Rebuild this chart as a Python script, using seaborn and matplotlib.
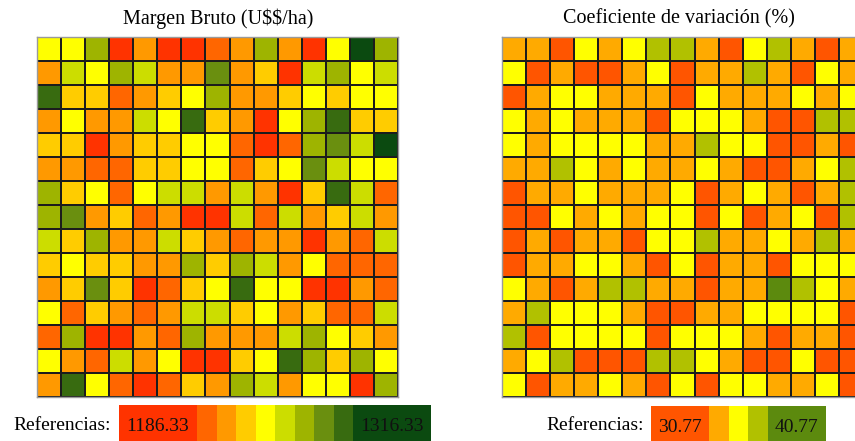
import numpy as np
import seaborn as sns
import matplotlib
matplotlib.use("Agg")
import matplotlib.pyplot as plt
from matplotlib.colors import ListedColormap, BoundaryNorm

plt.rcParams["text.parse_math"] = False

# ---- data -------------------------------------------------------------
margen_bruto = [
    [1245, 1245, 1271, 1193, 1219, 1193, 1193, 1206, 1219, 1271, 1219, 1193, 1245, 1310, 1271],
    [1219, 1258, 1245, 1271, 1258, 1219, 1219, 1284, 1219, 1232, 1193, 1258, 1271, 1245, 1258],
    [1297, 1232, 1232, 1206, 1219, 1232, 1245, 1271, 1219, 1219, 1232, 1245, 1232, 1245, 1245],
    [1219, 1245, 1219, 1219, 1258, 1245, 1297, 1232, 1219, 1193, 1245, 1271, 1297, 1232, 1232],
    [1232, 1232, 1186.33, 1219, 1232, 1232, 1245, 1245, 1206, 1193, 1206, 1271, 1284, 1258, 1316.33],
    [1219, 1219, 1206, 1206, 1232, 1232, 1245, 1245, 1206, 1232, 1245, 1284, 1258, 1245, 1245],
    [1271, 1232, 1245, 1206, 1245, 1258, 1258, 1219, 1258, 1219, 1193, 1232, 1297, 1258, 1206],
    [1271, 1284, 1219, 1232, 1206, 1219, 1193, 1193, 1258, 1206, 1258, 1219, 1232, 1258, 1219],
    [1258, 1232, 1271, 1219, 1219, 1258, 1232, 1219, 1206, 1219, 1219, 1193, 1219, 1206, 1258],
    [1232, 1245, 1232, 1232, 1219, 1219, 1271, 1232, 1271, 1258, 1219, 1245, 1206, 1206, 1206],
    [1219, 1232, 1284, 1232, 1193, 1206, 1232, 1245, 1297, 1245, 1245, 1193, 1193, 1219, 1206],
    [1245, 1206, 1232, 1219, 1206, 1219, 1258, 1258, 1232, 1245, 1219, 1232, 1206, 1206, 1258],
    [1206, 1271, 1193, 1193, 1219, 1206, 1271, 1219, 1219, 1219, 1258, 1271, 1245, 1232, 1219],
    [1245, 1219, 1206, 1258, 1219, 1245, 1193, 1193, 1232, 1245, 1297, 1271, 1232, 1271, 1245],
    [1219, 1297, 1245, 1206, 1193, 1206, 1232, 1219, 1271, 1258, 1219, 1245, 1245, 1193, 1271],
]

coef_variacion = [
    [33.8, 33.8, 31.8, 35.8, 33.8, 35.8, 37.8, 37.8, 33.8, 31.8, 35.8, 37.8, 33.8, 31.8, 33.8],
    [35.8, 31.8, 33.8, 31.8, 31.8, 33.8, 35.8, 31.8, 33.8, 33.8, 37.8, 33.8, 31.8, 35.8, 33.8],
    [31.8, 33.8, 35.8, 35.8, 33.8, 33.8, 33.8, 31.8, 35.8, 33.8, 33.8, 33.8, 35.8, 33.8, 35.8],
    [35.8, 33.8, 35.8, 33.8, 33.8, 33.8, 31.8, 35.8, 35.8, 35.8, 33.8, 31.8, 31.8, 37.8, 37.8],
    [35.8, 33.8, 35.8, 35.8, 35.8, 35.8, 33.8, 33.8, 37.8, 35.8, 35.8, 31.8, 31.8, 33.8, 31.8],
    [33.8, 33.8, 37.8, 35.8, 33.8, 35.8, 33.8, 33.8, 35.8, 33.8, 31.8, 31.8, 33.8, 35.8, 37.8],
    [31.8, 33.8, 33.8, 35.8, 33.8, 33.8, 33.8, 35.8, 31.8, 33.8, 35.8, 33.8, 31.8, 33.8, 37.8],
    [31.8, 31.8, 35.8, 33.8, 35.8, 33.8, 35.8, 35.8, 31.8, 35.8, 31.8, 33.8, 35.8, 31.8, 37.8],
    [30.77, 33.8, 31.8, 33.8, 33.8, 31.8, 35.8, 35.8, 37.8, 33.8, 33.8, 35.8, 33.8, 37.8, 33.8],
    [31.8, 33.8, 33.8, 35.8, 35.8, 33.8, 31.8, 35.8, 31.8, 33.8, 33.8, 31.8, 35.8, 35.8, 35.8],
    [35.8, 33.8, 31.8, 33.8, 37.8, 37.8, 33.8, 33.8, 31.8, 33.8, 33.8, 40.77, 37.8, 35.8, 33.8],
    [33.8, 37.8, 35.8, 35.8, 35.8, 33.8, 31.8, 31.8, 33.8, 33.8, 35.8, 35.8, 35.8, 35.8, 31.8],
    [37.8, 31.8, 35.8, 35.8, 35.8, 35.8, 31.8, 35.8, 35.8, 35.8, 33.8, 31.8, 33.8, 33.8, 31.8],
    [33.8, 35.8, 37.8, 31.8, 31.8, 31.8, 37.8, 37.8, 35.8, 33.8, 31.8, 31.8, 35.8, 31.8, 31.8],
    [35.8, 31.8, 33.8, 33.8, 35.8, 33.8, 31.8, 35.8, 31.8, 35.8, 35.8, 33.8, 33.8, 35.8, 31.8],
]

titles = ["Margen Bruto (U$$/ha)", "Coeficiente de variación (%)"]
legend_label = "Referencias:"

mb_colors = ["#FF3300", "#FF6600", "#FF9900", "#FFCC00", "#FFFF00",
             "#CCDD00", "#9EB400", "#6A8F0F", "#386B10", "#0B4A10"]
cv_colors = ["#FF5500", "#FFAA00", "#FFFF00", "#B1C100", "#5C8A0E"]

# ---- figure -----------------------------------------------------------
W, H = 855, 441
fig = plt.figure(figsize=(W / 100, H / 100), dpi=100)
fig.patch.set_facecolor("white")
serif = ["Liberation Serif", "DejaVu Serif"]


def px_axes(x0, y0, x1, y1):
    """Axes from a pixel box measured from the top-left corner."""
    return fig.add_axes([x0 / W, 1 - y1 / H, (x1 - x0) / W, (y1 - y0) / H])


def class_scale(data, colors):
    arr = np.asarray(data, dtype=float)
    lo, hi = arr.min(), arr.max()
    edges = np.linspace(lo, hi, len(colors) + 1)
    edges[0] -= 1e-6
    edges[-1] += 1e-6
    return ListedColormap(colors), BoundaryNorm(edges, len(colors)), lo, hi


def grid_panel(data, colors, box, title, tx):
    cmap, norm, lo, hi = class_scale(data, colors)
    ax = px_axes(*box)
    sns.heatmap(np.asarray(data, dtype=float), ax=ax, cmap=cmap, norm=norm,
                cbar=False, linewidths=1.1, linecolor="#1c1c1c",
                xticklabels=False, yticklabels=False, square=False)
    for s in ax.spines.values():
        s.set_visible(True)
        s.set_color("#9a9a9a")
        s.set_linewidth(1.0)
    fig.text(tx / W, 1 - 19 / H, title, ha="center", va="center",
             fontsize=14.5, family=serif)
    return cmap, norm, lo, hi


def legend_strip(colors, cmap, norm, lo, hi, box, wide, label_right):
    # one cell per class; the end classes span several cells to hold the labels
    mids = [(norm.boundaries[i] + norm.boundaries[i + 1]) / 2
            for i in range(1, len(colors) - 1)]
    arr = np.asarray([[lo] * wide + mids + [hi] * wide])
    ax = px_axes(*box)
    sns.heatmap(arr, ax=ax, cmap=cmap, norm=norm, cbar=False,
                xticklabels=False, yticklabels=False, linewidths=0)
    ax.set_ylim(1, 0)
    ax.text(wide / 2, 0.47, f"{lo:.2f}", ha="center", va="center",
            fontsize=14, family=serif, color="#111111")
    ax.text(arr.shape[1] - wide / 2, 0.47, f"{hi:.2f}", ha="center", va="center",
            fontsize=14, family=serif, color="#111111")
    fig.text(label_right / W, 1 - 426 / H, legend_label, ha="right", va="center",
             fontsize=14, family=serif)


cm1, n1, lo1, hi1 = grid_panel(margen_bruto, mb_colors, (37, 37, 398, 397), titles[0], 218)
cm2, n2, lo2, hi2 = grid_panel(coef_variacion, cv_colors, (502, 37, 863, 397), titles[1], 679)

legend_strip(mb_colors, cm1, n1, lo1, hi1, (119, 405, 431, 451), 4, 111)
legend_strip(cv_colors, cm2, n2, lo2, hi2, (651, 406, 826, 452), 3, 644)

fig.savefig("out.png", dpi=100)
